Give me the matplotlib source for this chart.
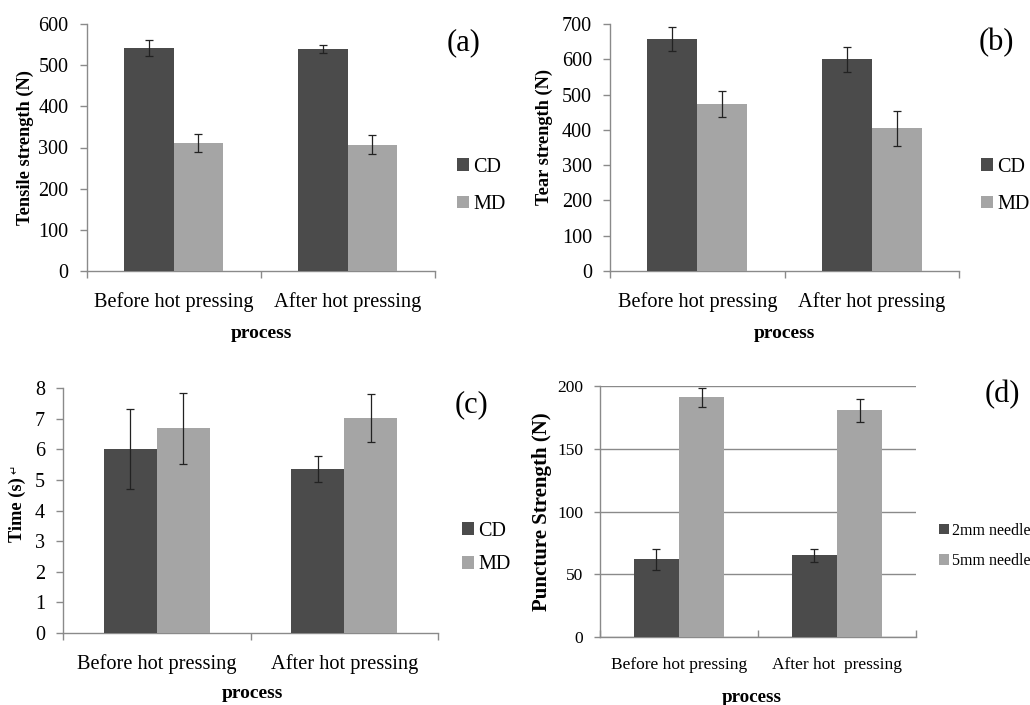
import matplotlib
matplotlib.use("Agg")
import matplotlib.pyplot as plt
import numpy as np

plt.rcParams['font.family'] = ['Liberation Serif', 'DejaVu Sans']

categories = ["Before hot pressing", "After hot pressing"]
categories_d = ["Before hot pressing", "After hot  pressing"]

# (a) Tensile strength (N)
tensile_cd = [542, 540]
tensile_cd_err = [19, 10]
tensile_md = [310, 307]
tensile_md_err = [22, 23]

# (b) Tear strength (N)
tear_cd = [657, 600]
tear_cd_err = [34, 35]
tear_md = [473, 404]
tear_md_err = [36, 50]

# (c) Time (s)
time_cd = [6.0, 5.35]
time_cd_err = [1.3, 0.43]
time_md = [6.68, 7.03]
time_md_err = [1.17, 0.78]

# (d) Puncture strength (N)
punct_2mm = [62, 65]
punct_2mm_err = [8.4, 5]
punct_5mm = [191, 180.5]
punct_5mm_err = [7.8, 9]

yticks_a = [0, 100, 200, 300, 400, 500, 600]
yticks_b = [0, 100, 200, 300, 400, 500, 600, 700]
yticks_c = [0, 1, 2, 3, 4, 5, 6, 7, 8]
yticks_d = [0, 50, 100, 150, 200]

DARK = '#4b4b4b'
LIGHT = '#a5a5a5'
AXC = '#8a8a8a'

W, H = 1030, 705
fig = plt.figure(figsize=(W / 100, H / 100), dpi=100)


def px_axes(x0, x1, ytop, ybot):
    return fig.add_axes([x0 / W, (H - ybot) / H, (x1 - x0) / W, (ybot - ytop) / H])


def panel(ax, s1, e1, s2, e2, labels, yticks, bw, fs, yfs, xpad, grid=False, ticks_in=False):
    x = np.arange(len(labels))
    ekw = dict(elinewidth=0.9, capthick=0.9, ecolor='#222222')
    b1 = ax.bar(x - bw / 2, s1, bw, color=DARK, yerr=e1, capsize=3, error_kw=ekw, zorder=3)
    b2 = ax.bar(x + bw / 2, s2, bw, color=LIGHT, yerr=e2, capsize=3, error_kw=ekw, zorder=3)
    ax.set_xlim(-0.5, len(labels) - 0.5)
    ax.set_ylim(yticks[0], yticks[-1])
    ax.set_yticks(yticks)
    ax.set_yticklabels([str(t) for t in yticks], fontsize=yfs)
    ax.set_xticks(np.arange(len(labels) + 1) - 0.5)
    ax.set_xticklabels([])
    ax.set_xticks(x, minor=True)
    ax.set_xticklabels(labels, minor=True, fontsize=fs)
    ax.tick_params(axis='x', which='minor', length=0, pad=xpad)
    ax.tick_params(axis='x', which='major', length=5, width=1.0, color=AXC,
                   direction='in' if ticks_in else 'out')
    ax.tick_params(axis='y', length=5 if not ticks_in else 4, width=1.0, color=AXC, pad=8)
    for s in ['top', 'right']:
        ax.spines[s].set_visible(False)
    for s in ['left', 'bottom']:
        ax.spines[s].set_color(AXC)
        ax.spines[s].set_linewidth(1.0)
    if grid:
        ax.yaxis.grid(True, color=AXC, linewidth=1.0, zorder=0)
        ax.set_axisbelow(True)
    return b1, b2


def legend(ax, handles, labels, x, y, fs, spacing):
    ax.legend(handles, labels, loc='center left', bbox_to_anchor=(x / W, (H - y) / H),
              bbox_transform=fig.transFigure, frameon=False, fontsize=fs, handlelength=0.6,
              handleheight=0.6, handletextpad=0.2, labelspacing=spacing, borderpad=0,
              borderaxespad=0)


# (a)
ax_a = px_axes(86.5, 434.5, 24, 271)
h = panel(ax_a, tensile_cd, tensile_cd_err, tensile_md, tensile_md_err,
          categories, yticks_a, 0.283, 14.7, 14.5, 15.5)
legend(ax_a, h, ["CD", "MD"], 457, 186, 14.5, 0.9)
fig.text(25 / W, (H - 148) / H, "Tensile strength (N)", rotation=90, ha='center', va='center',
         fontsize=13.2, fontweight='bold')
fig.text(261 / W, (H - 333) / H, "process", ha='center', va='center', fontsize=14, fontweight='bold')
fig.text(464 / W, (H - 43) / H, "(a)", ha='center', va='center', fontsize=22)

# (b)
ax_b = px_axes(610, 959, 24, 271)
h = panel(ax_b, tear_cd, tear_cd_err, tear_md, tear_md_err,
          categories, yticks_b, 0.287, 14.7, 14.5, 15.5)
legend(ax_b, h, ["CD", "MD"], 981, 186, 14.5, 0.9)
fig.text(544 / W, (H - 137) / H, "Tear strength (N)", rotation=90, ha='center', va='center',
         fontsize=13.2, fontweight='bold')
fig.text(784 / W, (H - 333) / H, "process", ha='center', va='center', fontsize=14, fontweight='bold')
fig.text(996 / W, (H - 43) / H, "(b)", ha='center', va='center', fontsize=22)

# (c)
ax_c = px_axes(63, 438, 388, 633)
h = panel(ax_c, time_cd, time_cd_err, time_md, time_md_err,
          categories, yticks_c, 0.283, 14.7, 14.5, 15.5)
legend(ax_c, h, ["CD", "MD"], 462, 548, 14.5, 0.72)
fig.text(17 / W, (H - 510) / H, "Time (s)", rotation=90, ha='center', va='center',
         fontsize=13.2, fontweight='bold')
fig.text(15 / W, (H - 469) / H, "\u21b5", rotation=90, ha='center', va='center',
         fontsize=8, family=['DejaVu Sans'])
fig.text(252 / W, (H - 693) / H, "process", ha='center', va='center', fontsize=14, fontweight='bold')
fig.text(472 / W, (H - 405) / H, "(c)", ha='center', va='center', fontsize=22)

# (d)
ax_d = px_axes(600, 916, 386, 637)
h = panel(ax_d, punct_2mm, punct_2mm_err, punct_5mm, punct_5mm_err,
          categories_d, yticks_d, 0.285, 12.5, 12.5, 14.5, grid=True, ticks_in=True)
legend(ax_d, h, ["2mm needle", "5mm needle"], 939, 546, 11.5, 0.9)
fig.text(542 / W, (H - 512) / H, "Puncture Strength (N)", rotation=90, ha='center', va='center',
         fontsize=15, fontweight='bold')
fig.text(752 / W, (H - 698) / H, "process", ha='center', va='center', fontsize=13.7, fontweight='bold')
fig.text(1002 / W, (H - 395) / H, "(d)", ha='center', va='center', fontsize=22)

fig.savefig("out.png", dpi=100)
